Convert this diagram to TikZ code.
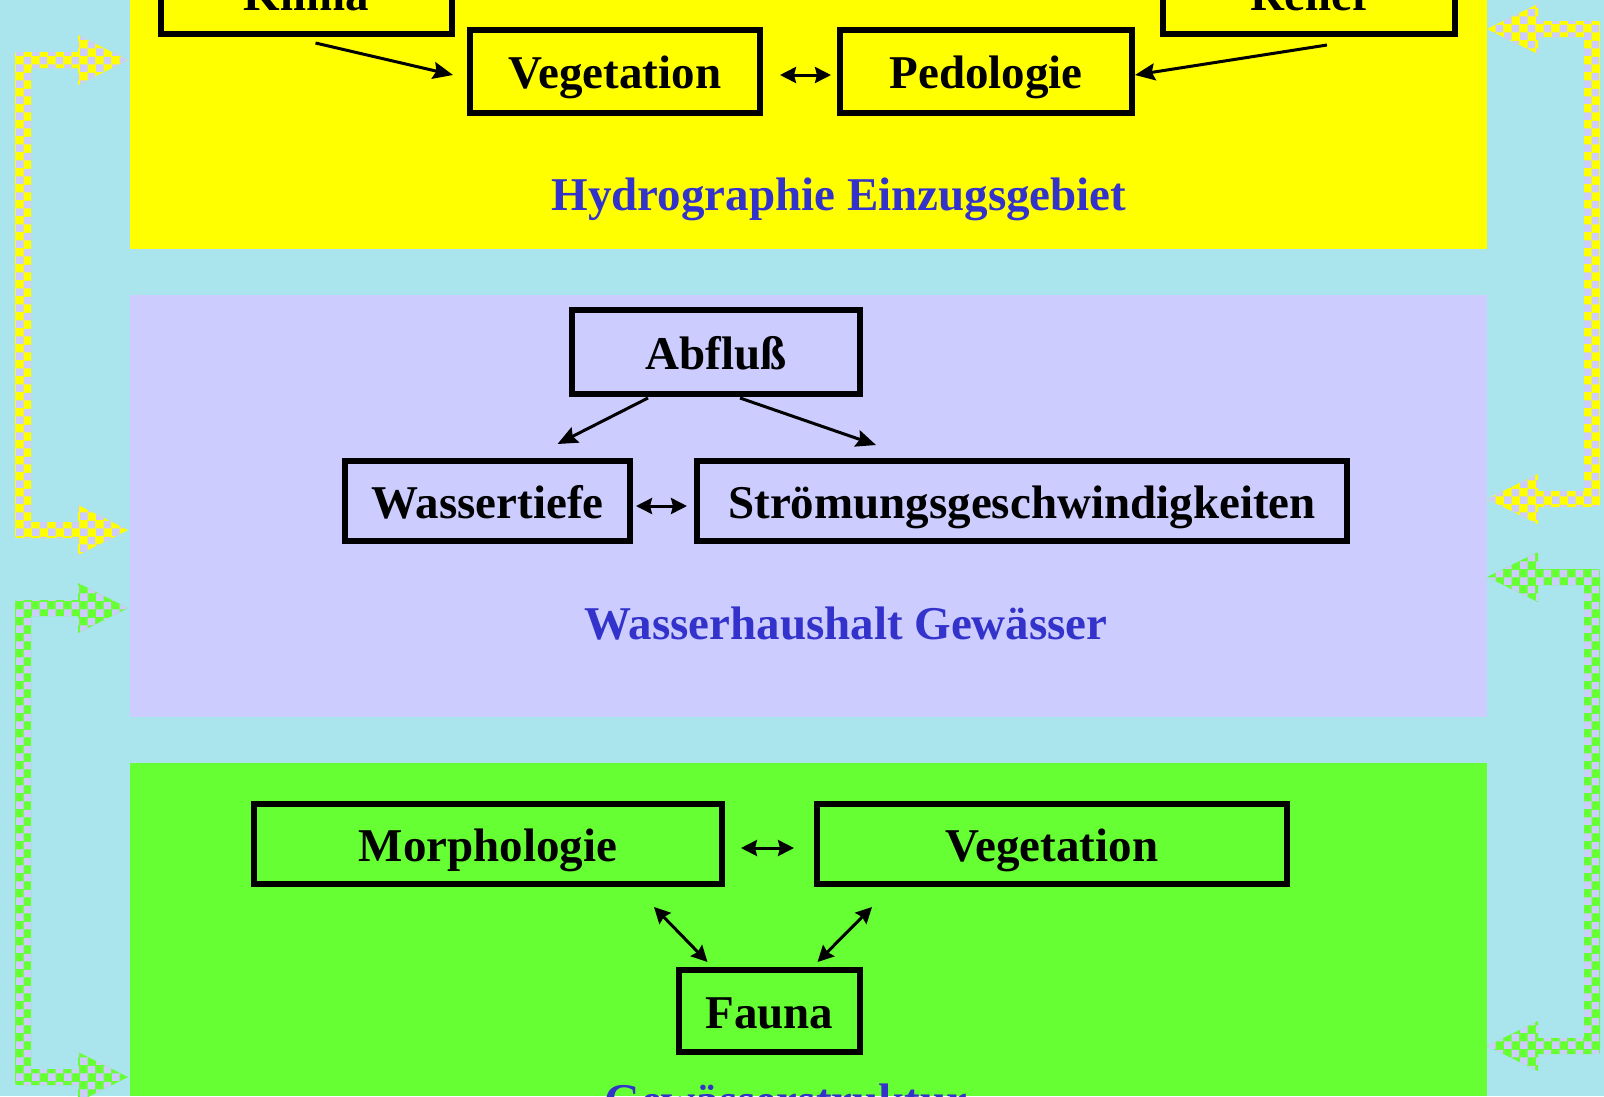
\documentclass[tikz,border=0pt]{standalone}
\usepackage{fontspec}
\setmainfont{Liberation Serif}
\usetikzlibrary{arrows.meta,patterns}

% checker pattern with 8pt squares
\pgfdeclarepatternformonly{kariert}{\pgfqpoint{0pt}{0pt}}{\pgfqpoint{16pt}{16pt}}{\pgfqpoint{16pt}{16pt}}{%
  \pgfpathrectangle{\pgfqpoint{0pt}{0pt}}{\pgfqpoint{8pt}{8pt}}%
  \pgfpathrectangle{\pgfqpoint{8pt}{8pt}}{\pgfqpoint{8pt}{8pt}}%
  \pgfusepath{fill}}

\begin{document}
\begin{tikzpicture}[
    x=1pt, y=-1pt,
    kasten/.style={draw=black, line width=6pt, minimum height=82pt, inner sep=0pt,
      text height=34pt, text depth=0pt, font=\fontsize{47}{50}\selectfont\bfseries},
    titel/.style={font=\fontsize{47}{50}\selectfont\bfseries, text=titelblau, inner sep=0pt},
    pfeil/.style={line width=3pt, -{Stealth[length=20pt,width=17pt,inset=3pt]}},
    doppel/.style={line width=3pt, {Stealth[length=16pt,width=16pt,inset=2pt]}-{Stealth[length=16pt,width=16pt,inset=2pt]}},
    karo gelb/.style={preaction={fill=gelb}, pattern=kariert, pattern color=lavendel},
    karo gruen/.style={preaction={fill=gruen}, pattern=kariert, pattern color=lavendel}
]
\definecolor{himmel}{RGB}{170,228,236}     % background
\definecolor{gelb}{RGB}{255,255,0}         % Hydrographie
\definecolor{lavendel}{RGB}{204,204,255}   % Wasserhaushalt
\definecolor{gruen}{RGB}{102,255,51}       % Gewaesserstruktur
\definecolor{titelblau}{RGB}{51,51,204}

\useasboundingbox (0,0) rectangle (1604,1096);
\fill[himmel] (0,0) rectangle (1604,1096);

% panels
\fill[gelb] (130,0) rectangle (1487,249);
\fill[lavendel] (130,295) rectangle (1487,717);
\fill[gruen] (130,763) rectangle (1487,1096);

% side arrows, left
\path[karo gelb] (128,60) -- (78,35) -- (78,52) -- (20,52) .. controls (15,52) .. (15,57)
  -- (15,533) .. controls (15,538) .. (20,538) -- (78,538) -- (78,555) -- (128,530)
  -- (78,505) -- (78,522) -- (31,522) -- (31,68) -- (78,68) -- (78,85) -- cycle;
\path[karo gruen] (128,608) -- (78,583) -- (78,600) -- (20,600) .. controls (15,600) .. (15,605)
  -- (15,1080) .. controls (15,1085) .. (20,1085) -- (78,1085) -- (78,1102) -- (128,1077)
  -- (78,1052) -- (78,1069) -- (31,1069) -- (31,616) -- (78,616) -- (78,633) -- cycle;

% side arrows, right
\path[karo gelb] (1487,29) -- (1538,4) -- (1538,21) -- (1595,21) .. controls (1600,21) .. (1600,26)
  -- (1600,502) .. controls (1600,507) .. (1595,507) -- (1538,507) -- (1538,524) -- (1487,499)
  -- (1538,474) -- (1538,491) -- (1584,491) -- (1584,37) -- (1538,37) -- (1538,54) -- cycle;
\path[karo gruen] (1487,577) -- (1538,552) -- (1538,569) -- (1595,569) .. controls (1600,569) .. (1600,574)
  -- (1600,1049) .. controls (1600,1054) .. (1595,1054) -- (1538,1054) -- (1538,1071) -- (1487,1046)
  -- (1538,1021) -- (1538,1038) -- (1584,1038) -- (1584,585) -- (1538,585) -- (1538,602) -- cycle;

% Hydrographie Einzugsgebiet
\node[kasten, minimum width=291pt, minimum height=81pt] (klima) at (306.5,-6.5) {Klima};
\node[kasten, minimum width=292pt, minimum height=81pt] (relief) at (1309,-6.5) {Relief};
\node[kasten, minimum width=290pt, minimum height=83pt] (veg1) at (615,71.5) {Vegetation};
\node[kasten, minimum width=292pt, minimum height=83pt] (ped) at (986,71.5) {Pedologie};
\draw[pfeil] ([xshift=9pt,yshift=-6pt]klima.south) -- ([xshift=-14pt,yshift=-3.5pt]veg1.west);
\draw[pfeil] ([xshift=18pt,yshift=-8pt]relief.south) -- ([yshift=-3.5pt]ped.east);
\draw[doppel] ([xshift=17pt,yshift=-3.5pt]veg1.east) -- ([xshift=-6pt,yshift=-3.5pt]ped.west);
\node[titel, anchor=base] (hydro) at (839,210) {Hydrographie Einzugsgebiet};

% Wasserhaushalt Gewaesser
\node[kasten, minimum width=288pt, minimum height=84pt] (abfluss) at (716,352) {Abflu\ss};
\node[kasten, minimum width=285pt, minimum height=80pt] (tiefe) at (487.5,501) {Wassertiefe};
\node[kasten, minimum width=650pt, minimum height=80pt] (stroem) at (1022,501) {Strömungsgeschwindigkeiten};
\draw[pfeil] ([xshift=-68pt,yshift=-1pt]abfluss.south) -- ([xshift=70pt,yshift=14pt]tiefe.north);
\draw[pfeil] ([xshift=24pt,yshift=-1pt]abfluss.south) -- ([xshift=-146pt,yshift=13pt]stroem.north);
\draw[doppel] ([xshift=3pt,yshift=-5pt]tiefe.east) -- ([xshift=-7pt,yshift=-5pt]stroem.west);
\node[titel, anchor=base] (wasser) at (846,639) {Wasserhaushalt Gewässer};

% Gewaesserstruktur
\node[kasten, minimum width=468pt, minimum height=80pt] (morph) at (488,844) {Morphologie};
\node[kasten, minimum width=470pt, minimum height=80pt] (veg2) at (1052,844) {Vegetation};
\node[kasten, minimum width=181pt, minimum height=82pt] (fauna) at (769.5,1011) {Fauna};
\draw[doppel] ([xshift=16pt,yshift=-4pt]morph.east) -- ([xshift=-20pt,yshift=-4pt]veg2.west);
\draw[doppel] ([xshift=-71pt,yshift=-20pt]morph.south east) -- ([xshift=-62pt,yshift=5pt]fauna.north);
\draw[doppel] ([xshift=58pt,yshift=-20pt]veg2.south west) -- ([xshift=48pt,yshift=5pt]fauna.north);
\node[titel, anchor=base] (struktur) at (786,1116) {Gewässerstruktur};

\end{tikzpicture}
\end{document}
